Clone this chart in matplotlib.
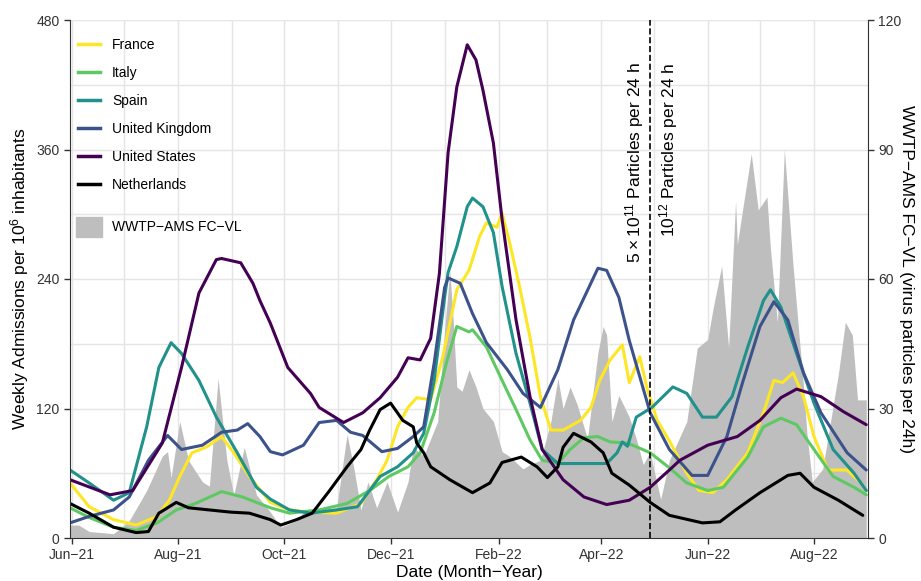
import matplotlib
matplotlib.use('Agg')
import pandas as pd
import matplotlib.pyplot as plt
import matplotlib.dates as mdates
from matplotlib.lines import Line2D
from matplotlib.patches import Patch

plt.rcParams['font.family'] = ['Liberation Sans', 'DejaVu Sans']
plt.rcParams['mathtext.default'] = 'regular'

# weekly hospital admissions per 10^6 inhabitants
fr_dates = ['2021-05-31', '2021-06-11', '2021-06-25', '2021-07-08', '2021-07-20', '2021-07-27', '2021-08-02',
            '2021-08-09', '2021-08-17', '2021-08-26', '2021-09-02', '2021-09-11', '2021-09-23', '2021-10-04',
            '2021-10-16', '2021-10-31', '2021-11-14', '2021-11-23', '2021-11-29', '2021-12-05', '2021-12-11',
            '2021-12-16', '2021-12-24', '2021-12-31', '2022-01-08', '2022-01-15', '2022-01-21', '2022-01-25',
            '2022-01-31', '2022-02-03', '2022-02-07', '2022-02-13', '2022-02-19', '2022-02-25', '2022-03-03',
            '2022-03-10', '2022-03-20', '2022-03-26', '2022-03-31', '2022-04-06', '2022-04-13', '2022-04-17',
            '2022-04-23', '2022-04-27', '2022-05-03', '2022-05-10', '2022-05-20', '2022-05-27', '2022-06-04',
            '2022-06-12', '2022-06-24', '2022-07-03', '2022-07-09', '2022-07-14', '2022-07-20', '2022-07-26',
            '2022-08-01', '2022-08-09', '2022-08-20', '2022-08-28', '2022-08-31']
fr_vals = [51, 29, 17, 12, 20, 35, 57, 79, 84, 94, 79, 57, 33, 26, 24, 23, 32, 54, 72, 103, 121, 130, 128, 168,
           230, 248, 279, 292, 288, 301, 276, 233, 186, 131, 100, 100, 109, 121, 146, 165, 179, 144, 168, 140,
           109, 90, 60, 44, 42, 54, 79, 116, 146, 144, 153, 131, 94, 63, 63, 51, 44]

it_dates = ['2021-05-31', '2021-06-11', '2021-06-25', '2021-07-08', '2021-07-20', '2021-07-31', '2021-08-11',
            '2021-08-26', '2021-09-07', '2021-09-23', '2021-10-04', '2021-10-21', '2021-11-06', '2021-11-19',
            '2021-11-30', '2021-12-11', '2021-12-18', '2021-12-26', '2022-01-02', '2022-01-08', '2022-01-15',
            '2022-01-17', '2022-01-25', '2022-02-03', '2022-02-11', '2022-02-19', '2022-02-26', '2022-03-07',
            '2022-03-14', '2022-03-22', '2022-03-30', '2022-04-06', '2022-04-16', '2022-04-29', '2022-05-10',
            '2022-05-20', '2022-06-01', '2022-06-10', '2022-06-24', '2022-07-03', '2022-07-13', '2022-07-22',
            '2022-08-01', '2022-08-12', '2022-08-24', '2022-08-31']
it_vals = [28, 19, 10, 7, 14, 26, 32, 43, 38, 28, 23, 26, 32, 44, 57, 66, 79, 116, 162, 196, 191, 193, 177, 146,
           119, 91, 72, 69, 82, 93, 94, 89, 88, 79, 65, 51, 44, 47, 75, 103, 111, 105, 82, 57, 47, 40]

es_dates = ['2021-05-31', '2021-06-11', '2021-06-25', '2021-07-04', '2021-07-14', '2021-07-21', '2021-07-28',
            '2021-08-03', '2021-08-13', '2021-08-23', '2021-09-04', '2021-09-15', '2021-09-23', '2021-10-04',
            '2021-10-16', '2021-10-31', '2021-11-12', '2021-11-25', '2021-12-05', '2021-12-14', '2021-12-20',
            '2021-12-26', '2022-01-01', '2022-01-03', '2022-01-08', '2022-01-14', '2022-01-17', '2022-01-23',
            '2022-01-29', '2022-02-03', '2022-02-11', '2022-02-19', '2022-02-26', '2022-03-07', '2022-03-20',
            '2022-04-04', '2022-04-10', '2022-04-13', '2022-04-16', '2022-04-21', '2022-04-30', '2022-05-12',
            '2022-05-20', '2022-05-29', '2022-06-06', '2022-06-15', '2022-06-24', '2022-07-03', '2022-07-07',
            '2022-07-13', '2022-07-22', '2022-08-01', '2022-08-12', '2022-08-24', '2022-08-31']
es_vals = [63, 51, 35, 42, 103, 158, 181, 171, 146, 112, 79, 47, 36, 26, 23, 26, 29, 57, 66, 79, 97, 146, 223,
           246, 270, 307, 315, 307, 283, 233, 171, 125, 82, 69, 69, 69, 79, 89, 85, 112, 121, 140, 134, 112, 112,
           131, 177, 220, 230, 214, 171, 125, 82, 60, 44]

uk_dates = ['2021-05-31', '2021-06-11', '2021-06-25', '2021-07-04', '2021-07-15', '2021-07-26', '2021-08-03',
            '2021-08-15', '2021-08-26', '2021-09-04', '2021-09-10', '2021-09-17', '2021-09-23', '2021-09-30',
            '2021-10-12', '2021-10-21', '2021-10-31', '2021-11-08', '2021-11-15', '2021-11-26', '2021-12-05',
            '2021-12-14', '2021-12-20', '2021-12-26', '2022-01-01', '2022-01-03', '2022-01-10', '2022-01-17',
            '2022-01-25', '2022-02-06', '2022-02-15', '2022-02-25', '2022-03-07', '2022-03-16', '2022-03-30',
            '2022-04-04', '2022-04-11', '2022-04-17', '2022-04-29', '2022-05-10', '2022-05-23', '2022-06-01',
            '2022-06-12', '2022-06-21', '2022-07-01', '2022-07-09', '2022-07-17', '2022-07-26', '2022-08-05',
            '2022-08-20', '2022-08-31']
uk_vals = [14, 20, 26, 38, 72, 95, 82, 86, 98, 100, 106, 94, 80, 77, 86, 107, 109, 98, 95, 80, 83, 94, 103, 162,
           232, 241, 236, 208, 181, 156, 134, 121, 156, 202, 250, 248, 223, 183, 116, 82, 58, 58, 94, 144, 196,
           219, 202, 153, 116, 79, 63]

us_dates = ['2021-05-31', '2021-06-23', '2021-07-06', '2021-07-23', '2021-08-03', '2021-08-13', '2021-08-23',
            '2021-08-26', '2021-09-06', '2021-09-13', '2021-09-17', '2021-09-23', '2021-10-03', '2021-10-16',
            '2021-10-21', '2021-11-04', '2021-11-15', '2021-11-25', '2021-12-05', '2021-12-11', '2021-12-18',
            '2021-12-24', '2021-12-29', '2022-01-03', '2022-01-08', '2022-01-14', '2022-01-19', '2022-01-23',
            '2022-01-29', '2022-02-03', '2022-02-11', '2022-02-19', '2022-02-26', '2022-03-10', '2022-03-22',
            '2022-04-04', '2022-04-17', '2022-04-29', '2022-05-10', '2022-05-16', '2022-06-01', '2022-06-18',
            '2022-07-01', '2022-07-13', '2022-07-22', '2022-08-05', '2022-08-18', '2022-08-31']
us_vals = [54, 40, 44, 88, 158, 227, 258, 259, 255, 236, 220, 199, 158, 134, 121, 107, 116, 130, 149, 167, 165,
           185, 245, 357, 418, 457, 443, 415, 366, 295, 202, 131, 82, 54, 38, 31, 35, 47, 63, 72, 86, 94, 109,
           130, 138, 131, 117, 105]

nl_dates = ['2021-05-31', '2021-06-11', '2021-06-25', '2021-07-08', '2021-07-15', '2021-07-21', '2021-07-31',
            '2021-08-07', '2021-08-19', '2021-08-31', '2021-09-11', '2021-09-23', '2021-09-29', '2021-10-08',
            '2021-10-17', '2021-10-27', '2021-11-06', '2021-11-14', '2021-11-19', '2021-11-25', '2021-12-01',
            '2021-12-08', '2021-12-14', '2021-12-16', '2021-12-20', '2021-12-24', '2022-01-04', '2022-01-17',
            '2022-01-27', '2022-02-03', '2022-02-14', '2022-02-23', '2022-03-01', '2022-03-07', '2022-03-10',
            '2022-03-16', '2022-03-26', '2022-04-02', '2022-04-07', '2022-04-17', '2022-04-29', '2022-05-10',
            '2022-05-29', '2022-06-08', '2022-06-17', '2022-07-01', '2022-07-17', '2022-07-24', '2022-08-01',
            '2022-08-15', '2022-08-29']
nl_vals = [32, 23, 10, 5, 6, 23, 33, 28, 26, 24, 23, 17, 12, 17, 23, 44, 66, 82, 100, 119, 125, 109, 103, 88, 79,
           66, 54, 42, 51, 70, 75, 66, 56, 66, 84, 97, 89, 79, 60, 49, 33, 21, 14, 15, 26, 42, 58, 60, 47, 35, 21]

# WWTP-AMS FC-VL, right axis (virus particles per 24h)
ww_dates = ['2021-05-31', '2021-06-05', '2021-06-11', '2021-06-25', '2021-07-04', '2021-07-14', '2021-07-23',
            '2021-07-26', '2021-07-28', '2021-08-02', '2021-08-07', '2021-08-15', '2021-08-19', '2021-08-24',
            '2021-08-29', '2021-09-02', '2021-09-08', '2021-09-15', '2021-09-23', '2021-09-29', '2021-10-08',
            '2021-10-12', '2021-10-20', '2021-10-31', '2021-11-06', '2021-11-10', '2021-11-14', '2021-11-18',
            '2021-11-23', '2021-11-29', '2021-12-05', '2021-12-11', '2021-12-14', '2021-12-20', '2021-12-28',
            '2022-01-01', '2022-01-04', '2022-01-06', '2022-01-08', '2022-01-11', '2022-01-15', '2022-01-19',
            '2022-01-23', '2022-01-29', '2022-02-03', '2022-02-07', '2022-02-15', '2022-02-19', '2022-02-25',
            '2022-03-03', '2022-03-07', '2022-03-10', '2022-03-14', '2022-03-18', '2022-03-24', '2022-03-30',
            '2022-04-02', '2022-04-04', '2022-04-07', '2022-04-11', '2022-04-17', '2022-04-21', '2022-04-25',
            '2022-04-29', '2022-05-01', '2022-05-05', '2022-05-10', '2022-05-20', '2022-05-26', '2022-06-01',
            '2022-06-04', '2022-06-08', '2022-06-09', '2022-06-13', '2022-06-17', '2022-06-18', '2022-06-21',
            '2022-06-26', '2022-06-30', '2022-07-05', '2022-07-07', '2022-07-11', '2022-07-15', '2022-07-20',
            '2022-07-26', '2022-07-28', '2022-07-31', '2022-08-06', '2022-08-15', '2022-08-19', '2022-08-23',
            '2022-08-26', '2022-08-31']
ww_vals = [3, 3, 1.5, 1, 4, 11, 19, 20, 14, 27, 18, 13, 12, 37, 18, 10, 21, 10, 6, 2.5, 4, 6, 6.5, 7, 24, 16, 6.5,
           13, 7, 13, 6, 13, 21, 19, 27, 48, 62, 50, 35, 34, 39, 35, 30, 27, 20, 19, 16, 17, 18, 27, 37, 30, 35,
           31, 23, 43, 49, 47, 27, 33, 28, 23, 17, 20, 16, 9, 18, 27, 44, 46, 53, 61, 63, 44, 78, 68, 76, 89, 76,
           79, 67, 50, 90, 63, 35, 24, 13, 16, 38, 50, 47, 32, 32]

countries = ['France', 'Italy', 'Spain', 'United Kingdom', 'United States', 'Netherlands']
colors = ['#FDE725', '#5EC962', '#21918C', '#3B528B', '#440154', '#000000']
series = [(fr_dates, fr_vals), (it_dates, it_vals), (es_dates, es_vals),
          (uk_dates, uk_vals), (us_dates, us_vals), (nl_dates, nl_vals)]

threshold_date = '2022-04-29'
txt_col = '#333333'
grid_col = '#E5E5E5'
ww_col = '#BEBEBE'

fig = plt.figure(figsize=(9.21, 5.81), dpi=100)
ax = fig.add_axes([70 / 921, 43 / 581, 798 / 921, 518 / 581])
ax2 = ax.twinx()
ax.set_zorder(ax2.get_zorder() + 1)
ax.patch.set_visible(False)

# wastewater area + grid on the lower (right) axis
ax2.xaxis.set_visible(True)
ax2.fill_between(pd.to_datetime(ww_dates), ww_vals, 0, color=ww_col, lw=0)
ax2.set_ylim(0, 120)
ax2.set_yticks([0, 30, 60, 90, 120])
ax2.set_yticks([15, 45, 75, 105], minor=True)
ax2.set_axisbelow(True)
ax2.grid(True, which='both', color=grid_col, lw=1.0)

for (d, v), c, name in zip(series, colors, countries):
    ax.plot(pd.to_datetime(d), v, color=c, lw=2.2, label=name, solid_capstyle='round', solid_joinstyle='round')

ax.axvline(pd.Timestamp(threshold_date), color='black', ls='--', lw=1.2)
ax.annotate(r'$5\times10^{11}$ Particles per 24 h', xy=(pd.Timestamp(threshold_date), 441),
            xytext=(-11.5, 0), textcoords='offset points', rotation=90, ha='center', va='top', fontsize=12.5)
ax.annotate(r'$10^{12}$ Particles per 24 h', xy=(pd.Timestamp(threshold_date), 441),
            xytext=(13.5, 0), textcoords='offset points', rotation=90, ha='center', va='top', fontsize=12.5)

ax.set_xlim(pd.Timestamp('2021-05-31'), pd.Timestamp('2022-09-01'))
ax.set_ylim(0, 480)
ax.set_yticks([0, 120, 240, 360, 480])
ax.set_yticks([60, 180, 300, 420], minor=True)
ax.xaxis.set_major_locator(mdates.MonthLocator(bymonth=[2, 4, 6, 8, 10, 12]))
ax.xaxis.set_minor_locator(mdates.MonthLocator())
ax.xaxis.set_major_formatter(mdates.DateFormatter('%b\u2212%y'))

for a in (ax, ax2):
    a.tick_params(which='major', length=4, width=1, color=txt_col, labelcolor=txt_col, labelsize=10)
    a.tick_params(which='minor', length=0)
    a.spines['top'].set_visible(False)
ax2.tick_params(axis='x', which='both', bottom=False, top=False, labelbottom=False, labeltop=False)
ax.spines['right'].set_visible(False)
for s in ('left', 'bottom'):
    ax.spines[s].set_color(txt_col)
    ax2.spines[s].set_visible(False)
ax2.spines['right'].set_color(txt_col)

ax.set_xlabel('Date (Month\u2212Year)', fontsize=12.5, labelpad=2)
ax.set_ylabel(r'Weekly Admissions per 10$^6$ inhabitants', fontsize=12.5, labelpad=4)
ax2.set_ylabel('WWTP\u2212AMS FC\u2212VL (virus particles per 24h)', fontsize=12.5, rotation=270, labelpad=9)

handles = [Line2D([], [], color=c, lw=2.5) for c in colors]
leg1 = ax.legend(handles, countries, loc='upper left', bbox_to_anchor=(0.01, 0.965), frameon=False,
                 fontsize=10, handlelength=1.6, handletextpad=0.85, labelspacing=1.0, borderpad=0,
                 borderaxespad=0)
ax.add_artist(leg1)
ax.legend([Patch(color=ww_col)], ['WWTP\u2212AMS FC\u2212VL'], loc='upper left', bbox_to_anchor=(0.0075, 0.62),
          frameon=False, fontsize=10, handlelength=1.87, handleheight=1.87, handletextpad=0.72, borderpad=0,
          borderaxespad=0)

fig.savefig('out.png', dpi=100, facecolor='white')
